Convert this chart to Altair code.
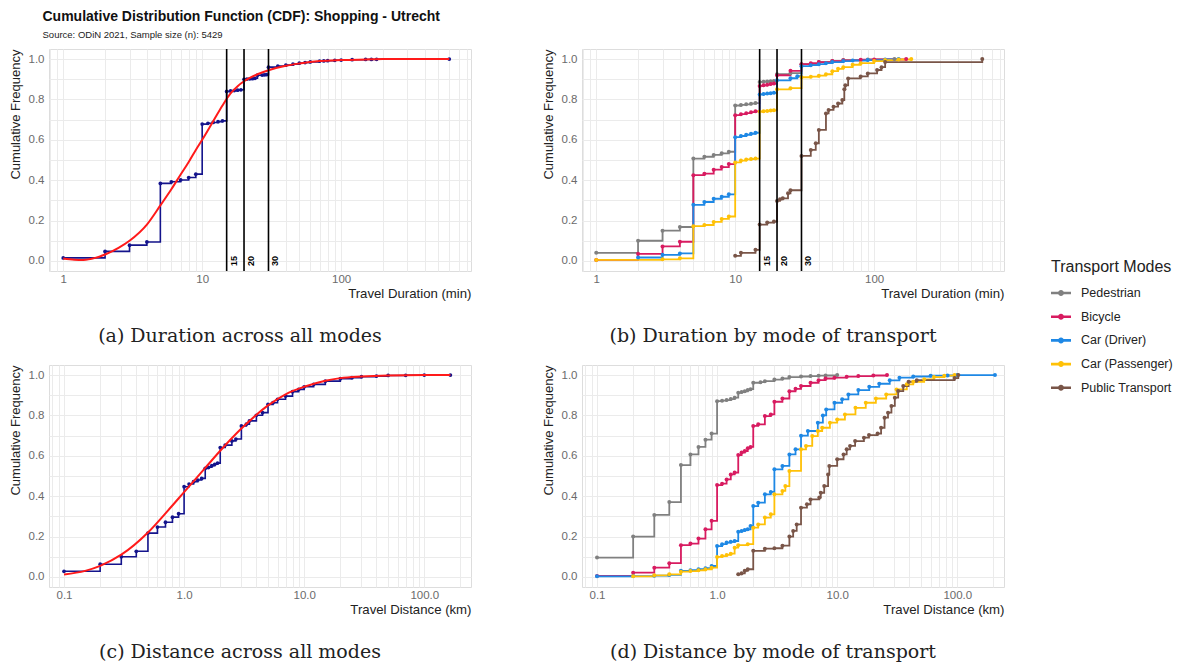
import altair as alt
import pandas as pd

# ---------------- data ----------------
modes = ["Pedestrian", "Bicycle", "Car (Driver)", "Car (Passenger)", "Public Transport"]
mode_colors = ["#808080", "#D81B60", "#1E88E5", "#FFC107", "#795548"]
thresholds = [15, 20, 30]

# (a) duration, all modes: empirical CDF
dur_x = [1, 2, 3, 4, 5, 6, 7, 8, 9, 10, 11, 12, 13, 14, 15, 16, 17, 18, 19, 20, 21, 22, 23, 24, 25, 27, 28, 29,
         30, 35, 40, 45, 50, 55, 60, 70, 75, 80, 90, 100, 120, 150, 165, 180, 600]
dur_y = [0.015, 0.047, 0.078, 0.094, 0.384, 0.392, 0.401, 0.413, 0.43, 0.678, 0.682, 0.686, 0.69, 0.694, 0.84,
         0.842, 0.844, 0.846, 0.848, 0.9, 0.901, 0.902, 0.903, 0.905, 0.92, 0.921, 0.922, 0.923, 0.96, 0.965,
         0.97, 0.975, 0.98, 0.983, 0.986, 0.99, 0.991, 0.992, 0.994, 0.995, 0.997, 0.998, 0.998, 0.999, 1.0]
# (a) fitted curve
fit_dur_x = [1, 1.2, 1.4, 1.7, 2, 2.5, 3, 4, 5, 6, 7, 8, 9, 10, 12, 14, 16, 18, 20, 25, 30, 40, 50, 70, 100,
             150, 200, 300, 600]
fit_dur_y = [0.012, 0.006, 0.005, 0.015, 0.032, 0.065, 0.1, 0.18, 0.275, 0.355, 0.428, 0.49, 0.55, 0.6, 0.692,
             0.77, 0.83, 0.866, 0.89, 0.925, 0.945, 0.967, 0.978, 0.99, 0.995, 0.998, 1.0, 1.0, 1.0]

# (b) duration by mode
ped_dur_x = [1, 2, 3, 4, 5, 6, 7, 8, 9, 10, 11, 12, 13, 14, 15, 16, 17, 18, 19, 20, 25, 30, 40, 50, 60, 90, 140]
ped_dur_y = [0.04, 0.1, 0.15, 0.168, 0.507, 0.516, 0.525, 0.533, 0.541, 0.77, 0.773, 0.776, 0.779, 0.782, 0.887,
             0.888, 0.889, 0.89, 0.891, 0.925, 0.93, 0.975, 0.985, 0.99, 0.995, 0.998, 1.0]
bike_dur_x = [1, 2, 3, 4, 5, 6, 7, 8, 9, 10, 11, 12, 13, 14, 15, 16, 17, 18, 19, 20, 25, 30, 35, 40, 50, 60, 80,
              100, 170]
bike_dur_y = [0.005, 0.035, 0.072, 0.095, 0.425, 0.432, 0.452, 0.465, 0.48, 0.722, 0.727, 0.732, 0.737, 0.741,
              0.867, 0.87, 0.873, 0.876, 0.879, 0.92, 0.942, 0.975, 0.98, 0.985, 0.99, 0.994, 0.997, 0.998, 1.0]
car_dur_x = [2, 3, 4, 5, 6, 7, 8, 9, 10, 11, 12, 13, 14, 15, 16, 17, 18, 19, 20, 25, 28, 30, 35, 40, 45, 50, 60,
             70, 90, 120, 150]
car_dur_y = [0.017, 0.03, 0.037, 0.278, 0.292, 0.308, 0.318, 0.33, 0.613, 0.619, 0.625, 0.63, 0.635, 0.825, 0.827,
             0.829, 0.831, 0.833, 0.895, 0.905, 0.915, 0.965, 0.97, 0.975, 0.98, 0.985, 0.99, 0.993, 0.995, 0.998,
             1.0]
pass_dur_x = [1, 3, 4, 5, 6, 7, 8, 9, 10, 11, 12, 13, 14, 15, 16, 17, 18, 19, 20, 25, 30, 35, 40, 45, 50, 55, 60,
              70, 80, 100, 120, 150, 185]
pass_dur_y = [0.005, 0.008, 0.013, 0.172, 0.178, 0.193, 0.208, 0.22, 0.488, 0.497, 0.503, 0.505, 0.507, 0.74,
              0.742, 0.743, 0.745, 0.746, 0.85, 0.856, 0.91, 0.913, 0.918, 0.925, 0.94, 0.952, 0.96, 0.972, 0.98,
              0.99, 0.995, 0.998, 1.0]
pt_dur_x = [10, 11, 14, 15, 17, 19, 20, 21, 22, 24, 25, 30, 35, 38, 40, 45, 47, 51, 55, 59, 61, 62, 65, 80, 90,
            105, 113, 120, 600]
pt_dur_y = [0.025, 0.04, 0.055, 0.18, 0.19, 0.195, 0.297, 0.305, 0.31, 0.335, 0.35, 0.52, 0.55, 0.583, 0.649,
            0.731, 0.748, 0.764, 0.78, 0.797, 0.85, 0.87, 0.904, 0.914, 0.929, 0.946, 0.96, 0.985, 1.0]

# (c) distance, all modes: empirical CDF
dist_x = [0.1, 0.2, 0.3, 0.4, 0.5, 0.6, 0.7, 0.8, 0.9, 1.0, 1.1, 1.2, 1.3, 1.4, 1.5, 1.6, 1.7, 1.8, 1.9, 2.0,
          2.2, 2.5, 2.7, 3.0, 3.3, 3.5, 4.0, 4.5, 5.0, 5.5, 6.0, 7.0, 8.0, 9.0, 10, 12, 15, 20, 25, 30, 40, 50,
          70, 100, 165]
dist_y = [0.028, 0.063, 0.1, 0.127, 0.217, 0.247, 0.271, 0.296, 0.313, 0.447, 0.46, 0.472, 0.48, 0.488, 0.538,
          0.543, 0.551, 0.558, 0.564, 0.641, 0.653, 0.674, 0.683, 0.748, 0.757, 0.773, 0.801, 0.814, 0.855, 0.863,
          0.88, 0.896, 0.918, 0.929, 0.942, 0.954, 0.97, 0.982, 0.987, 0.992, 0.995, 0.998, 0.999, 1.0, 1.0]
# (c) fitted curve
fit_dist_x = [0.1, 0.15, 0.2, 0.3, 0.5, 0.7, 1.0, 1.5, 2, 3, 5, 7, 10, 15, 20, 30, 50, 100, 165]
fit_dist_y = [0.012, 0.03, 0.055, 0.11, 0.22, 0.315, 0.42, 0.54, 0.625, 0.735, 0.85, 0.905, 0.942, 0.972, 0.985,
              0.993, 0.998, 1.0, 1.0]

# (d) distance by mode
ped_dist_x = [0.1, 0.2, 0.3, 0.4, 0.5, 0.6, 0.7, 0.8, 0.9, 1.0, 1.1, 1.2, 1.3, 1.4, 1.5, 1.6, 1.7, 1.8, 1.9, 2.0,
              2.3, 2.5, 3.0, 3.5, 4.0, 5.0, 6.0, 7.0, 8.0, 10]
ped_dist_y = [0.096, 0.2, 0.307, 0.371, 0.554, 0.607, 0.644, 0.68, 0.71, 0.871, 0.873, 0.876, 0.881, 0.888, 0.912,
              0.916, 0.92, 0.926, 0.93, 0.962, 0.965, 0.97, 0.978, 0.983, 0.99, 0.993, 0.995, 0.997, 0.998, 1.0]
bike_dist_x = [0.1, 0.2, 0.3, 0.4, 0.5, 0.6, 0.7, 0.8, 0.9, 1.0, 1.1, 1.2, 1.3, 1.4, 1.5, 1.6, 1.7, 1.8, 1.9, 2.0,
               2.2, 2.5, 2.8, 3.0, 3.5, 4.0, 4.5, 5.0, 6.0, 7.0, 8.0, 9.5, 12, 15, 20, 26]
bike_dist_y = [0.005, 0.021, 0.046, 0.068, 0.157, 0.165, 0.19, 0.236, 0.278, 0.455, 0.462, 0.483, 0.508, 0.517,
               0.604, 0.616, 0.624, 0.637, 0.644, 0.748, 0.756, 0.797, 0.805, 0.868, 0.884, 0.92, 0.932, 0.946,
               0.962, 0.975, 0.983, 0.987, 0.992, 0.995, 0.998, 1.0]
car_dist_x = [0.1, 0.2, 0.3, 0.4, 0.5, 0.6, 0.7, 0.8, 0.9, 1.0, 1.1, 1.2, 1.3, 1.4, 1.5, 1.6, 1.7, 1.8, 1.9, 2.0,
              2.2, 2.5, 2.8, 3.0, 3.5, 4.0, 4.5, 5.0, 5.7, 6.9, 7.6, 8.1, 9.5, 11, 12.4, 15, 18.5, 22.4, 27.4, 33,
              43, 60, 83, 100, 206]
car_dist_y = [0.003, 0.004, 0.006, 0.01, 0.03, 0.033, 0.038, 0.043, 0.054, 0.153, 0.162, 0.17, 0.174, 0.178,
              0.224, 0.228, 0.232, 0.236, 0.252, 0.351, 0.368, 0.409, 0.421, 0.533, 0.55, 0.607, 0.632, 0.70, 0.723,
              0.764, 0.80, 0.83, 0.863, 0.88, 0.904, 0.926, 0.942, 0.957, 0.974, 0.987, 0.993, 0.997, 0.998, 1.0,
              1.0]
pass_dist_x = [0.2, 0.3, 0.4, 0.5, 0.6, 0.7, 0.8, 0.9, 1.0, 1.1, 1.2, 1.3, 1.4, 1.5, 1.8, 2.0, 2.2, 2.5, 2.8, 3.0,
               3.5, 3.7, 4.0, 5.0, 5.5, 6.2, 6.9, 7.5, 8.7, 10, 11.6, 14.2, 17.3, 21, 25.6, 31.2, 38, 43, 53, 64,
               78, 95]
pass_dist_y = [0.003, 0.008, 0.013, 0.026, 0.029, 0.033, 0.038, 0.046, 0.099, 0.103, 0.109, 0.115, 0.145, 0.157,
               0.162, 0.244, 0.26, 0.294, 0.31, 0.409, 0.426, 0.45, 0.525, 0.632, 0.649, 0.698, 0.723, 0.739,
               0.764, 0.78, 0.805, 0.838, 0.863, 0.884, 0.904, 0.929, 0.954, 0.967, 0.979, 0.99, 0.997, 1.0]
pt_dist_x = [1.5, 1.6, 1.7, 1.8, 2.0, 2.5, 3.0, 3.5, 4.0, 4.3, 4.6, 5.0, 5.6, 6.0, 7.1, 7.3, 7.8, 8.4, 8.6, 10,
             11.3, 12, 12.8, 14.1, 16.7, 18.4, 21.7, 23.2, 24.8, 26.5, 28.3, 30.2, 32.2, 35.5, 39.3, 46, 95, 102]
pt_dist_y = [0.013, 0.018, 0.03, 0.038, 0.129, 0.14, 0.142, 0.155, 0.2, 0.228, 0.26, 0.343, 0.36, 0.384, 0.393,
             0.417, 0.45, 0.508, 0.55, 0.583, 0.607, 0.632, 0.649, 0.673, 0.69, 0.703, 0.71, 0.739, 0.789, 0.814,
             0.847, 0.888, 0.921, 0.946, 0.967, 0.975, 0.985, 1.0]

# axis grid positions and labels
dur_grid = [0.8, 0.9, 1, 2, 3, 4, 5, 6, 7, 8, 9, 10, 20, 30, 40, 50, 60, 70, 80, 90, 100, 200, 300, 400, 500,
            600, 700, 800]
dist_grid = [0.08, 0.09, 0.1, 0.2, 0.3, 0.4, 0.5, 0.6, 0.7, 0.8, 0.9, 1, 2, 3, 4, 5, 6, 7, 8, 9, 10, 20, 30, 40,
             50, 60, 70, 80, 90, 100, 200]
y_grid = [0, 0.1, 0.2, 0.3, 0.4, 0.5, 0.6, 0.7, 0.8, 0.9, 1.0]

# ---------------- frames ----------------
def frame(xs, ys):
    return pd.DataFrame({"x": xs, "y": ys})

def mode_frame(xs_list, ys_list):
    parts = []
    for i, (m, xs, ys) in enumerate(zip(modes, xs_list, ys_list)):
        d = frame(xs, ys)
        d["mode"] = m
        d["k"] = i
        parts.append(d)
    return pd.concat(parts, ignore_index=True)

df_dur = frame(dur_x, dur_y)
df_fit_dur = frame(fit_dur_x, fit_dur_y)
df_dist = frame(dist_x, dist_y)
df_fit_dist = frame(fit_dist_x, fit_dist_y)
df_mode_dur = mode_frame([ped_dur_x, bike_dur_x, car_dur_x, pass_dur_x, pt_dur_x],
                         [ped_dur_y, bike_dur_y, car_dur_y, pass_dur_y, pt_dur_y])
df_mode_dist = mode_frame([ped_dist_x, bike_dist_x, car_dist_x, pass_dist_x, pt_dist_x],
                          [ped_dist_y, bike_dist_y, car_dist_y, pass_dist_y, pt_dist_y])
df_thr = pd.DataFrame({"t": thresholds})

# ---------------- styling helpers ----------------
FONT = "Liberation Sans"
SERIF = "DejaVu Serif"
W, H = 422, 222
NAVY = "#14148C"

decade = "abs(log(datum.value)/LN10 - round(log(datum.value)/LN10)) < 0.001"

def x_axis(title, fmt):
    return alt.Axis(title=title, values=dur_grid if fmt == "d" else dist_grid,
                    labelExpr=f"{decade} ? format(datum.value, '{fmt}') : ''",
                    ticks=False, domain=False, labelFont=FONT, labelFontSize=11.5, labelColor="#6b6b6b",
                    labelPadding=2, labelFlush=False, titleFont=FONT, titleFontSize=13.2, titleFontWeight="normal",
                    titleColor="#222", titleAnchor="end", titlePadding=3, gridColor="#EBEBEB", gridWidth=1)

y_axis = alt.Axis(title="Cumulative Frequency", values=y_grid,
                  labelExpr="round(datum.value*10) % 2 == 0 ? format(datum.value, '.1f') : ''",
                  ticks=False, domain=False, labelFont=FONT, labelFontSize=11.5, labelColor="#6b6b6b",
                  labelPadding=5, titleFont=FONT, titleFontSize=13, titleFontWeight="normal", titleColor="#222",
                  titlePadding=6, titleAnchor="end", gridColor="#EBEBEB", gridWidth=1)

y_scale = alt.Scale(domain=[-0.05, 1.05], nice=False, zero=False)
dur_scale = alt.Scale(type="log", domain=[0.79, 860], nice=False)
dist_scale = alt.Scale(type="log", domain=[0.075, 245], nice=False)

legend_symbol = ("M-1,-0.13L1,-0.13L1,0.13L-1,0.13Z "
                 "M0.3,0A0.3,0.3 0 1,1 -0.3,0A0.3,0.3 0 1,1 0.3,0Z")
legend = alt.Legend(title="Transport Modes", orient="none", legendX=1002, legendY=210,
                    symbolType=legend_symbol, symbolSize=400, symbolStrokeWidth=0, labelOffset=10,
                    titleFont=FONT, titleFontSize=16, titleFontWeight="normal", titleColor="#222",
                    titlePadding=8, labelFont=FONT, labelFontSize=12.5, labelColor="#222", rowPadding=6.7)
color_enc = alt.Color("mode:N", scale=alt.Scale(domain=modes, range=mode_colors), legend=legend)


def caption(text):
    return alt.TitleParams(text=text, orient="bottom", anchor="middle", frame="bounds", font=SERIF,
                           fontSize=19, fontWeight="normal", color="#222", offset=27)


def panel(df_main, df_fit, xscale, xtitle, fmt, cap, with_thr, by_mode):
    xa = x_axis(xtitle, fmt)
    X = lambda f: alt.X(f"{f}:Q", scale=xscale, axis=xa)
    Y = alt.Y("y:Q", scale=y_scale, axis=y_axis)
    layers = []
    if by_mode:
        layers.append(alt.Chart(df_main).mark_line(interpolate="step-after", strokeWidth=1.8)
                      .encode(x=X("x"), y=Y, color=color_enc, detail="mode:N", order="k:Q"))
        layers.append(alt.Chart(df_main).mark_circle(size=16, opacity=1)
                      .encode(x=X("x"), y=Y, color=color_enc))
    else:
        layers.append(alt.Chart(df_main).mark_line(interpolate="step-after", strokeWidth=1.6, color=NAVY)
                      .encode(x=X("x"), y=Y))
        layers.append(alt.Chart(df_main).mark_circle(size=14, opacity=1, color=NAVY)
                      .encode(x=X("x"), y=Y))
        layers.append(alt.Chart(df_fit).mark_line(strokeWidth=2, color="#FF1A1A", interpolate="monotone")
                      .encode(x=X("x"), y=Y))
    if with_thr:
        layers.append(alt.Chart(df_thr).mark_rule(color="black", strokeWidth=1.6)
                      .encode(x=X("t")))
        layers.append(alt.Chart(df_thr).mark_text(angle=270, fontSize=9, fontWeight="bold", font=FONT,
                                                   align="center", baseline="middle", dy=7, color="black")
                      .encode(x=X("t"), y=alt.Y(datum=0, scale=y_scale, axis=y_axis), text="t:Q"))
    return alt.layer(*layers).properties(width=W, height=H, title=caption(cap))


pa = panel(df_dur, df_fit_dur, dur_scale, "Travel Duration (min)", "d",
           "(a) Duration across all modes", True, False)
pb = panel(df_mode_dur, None, dur_scale, "Travel Duration (min)", "d",
           "(b) Duration by mode of transport", True, True)
pc = panel(df_dist, df_fit_dist, dist_scale, "Travel Distance (km)", ".1f",
           "(c) Distance across all modes", False, False)
pd_ = panel(df_mode_dist, None, dist_scale, "Travel Distance (km)", ".1f",
            "(d) Distance by mode of transport", False, True)

chart = alt.vconcat(
    alt.hconcat(pa, pb, spacing=69),
    alt.hconcat(pc, pd_, spacing=69),
    spacing=17,
).properties(
    title=alt.TitleParams(text="Cumulative Distribution Function (CDF): Shopping - Utrecht",
                          subtitle="Source: ODiN 2021, Sample size (n): 5429",
                          anchor="start", font=FONT, fontSize=14, fontWeight="bold", color="#111",
                          subtitleFont=FONT, subtitleFontSize=9.5, subtitleColor="#222", subtitlePadding=6,
                          dx=34, offset=8),
    padding={"left": 0, "top": 2, "right": 0, "bottom": 0},
).configure_view(stroke=None).configure(background="white")

chart.save("out.html", embed_options={"renderer": "svg", "actions": False})
